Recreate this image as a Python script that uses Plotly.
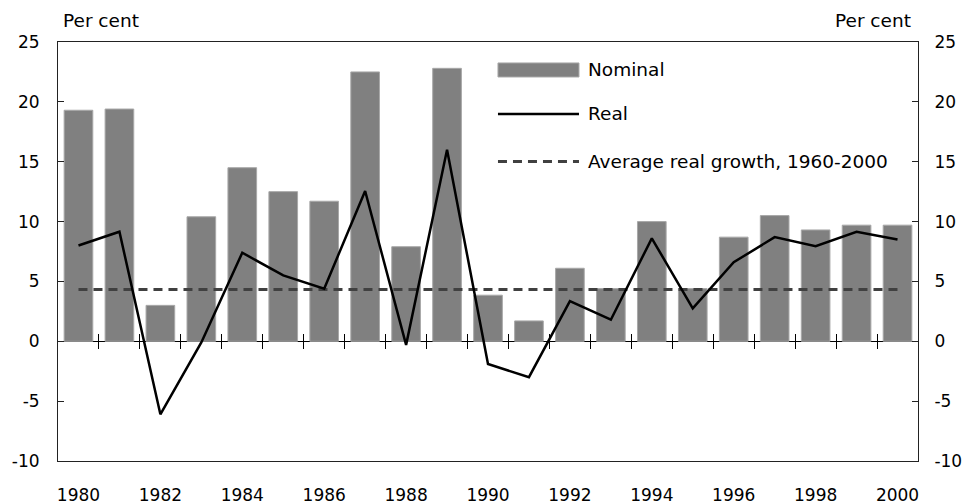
import plotly.graph_objects as go

years = list(range(1980, 2001))
nominal = [19.3, 19.4, 3.0, 10.4, 14.5, 12.5, 11.7, 22.5, 7.9, 22.8, 3.85,
           1.7, 6.1, 4.4, 10.0, 4.4, 8.7, 10.5, 9.3, 9.7, 9.7]
real = [8.0, 9.15, -6.1, -0.1, 7.4, 5.5, 4.4, 12.55, -0.3, 16.0, -1.9,
        -3.0, 3.35, 1.8, 8.6, 2.75, 6.6, 8.7, 7.95, 9.15, 8.5]
avg_real = 4.33
x_tick_labels = [str(y) for y in years if y % 2 == 0]
y_ticks = [-10, -5, 0, 5, 10, 15, 20, 25]
y_tick_labels = [str(v) for v in y_ticks]

FONT = "DejaVu Sans"
FS = 17
FS_TXT = 18.5

fig = go.Figure()
fig.add_trace(go.Bar(x=years, y=nominal, name="Nominal", width=0.7,
                     marker=dict(color="#808080", line=dict(color="#a8a8a8", width=1)),
                     showlegend=False))
fig.add_trace(go.Scatter(x=[years[0], years[-1]], y=[avg_real, avg_real], mode="lines",
                         line=dict(color="#404040", width=3, dash="9px,6px"),
                         showlegend=False, hoverinfo="skip"))
fig.add_trace(go.Scatter(x=years, y=real, mode="lines", name="Real",
                         line=dict(color="black", width=2.5), showlegend=False))
# helper traces to activate secondary axes
fig.add_trace(go.Scatter(x=[None], y=[None], yaxis="y2", showlegend=False, hoverinfo="skip"))
fig.add_trace(go.Scatter(x=[None], y=[None], xaxis="x2", showlegend=False, hoverinfo="skip"))
fig.add_trace(go.Scatter(x=[None], y=[None], xaxis="x3", showlegend=False, hoverinfo="skip"))

zero_pos = (0 - y_ticks[0]) / (y_ticks[-1] - y_ticks[0])
half_ticks = [y + 0.5 for y in years[:-1]]

fig.update_layout(
    width=966, height=504,
    margin=dict(l=58, r=48, t=42, b=43, autoexpand=False),
    paper_bgcolor="white", plot_bgcolor="white",
    font=dict(family=FONT, size=FS, color="black"),
    showlegend=False,
    xaxis=dict(range=[1979.5, 2000.5], tickvals=[int(t) for t in x_tick_labels],
               ticktext=x_tick_labels, ticks="", showgrid=False, zeroline=False,
               showline=True, linecolor="#222", linewidth=1, mirror=True, automargin=False,
               ticklabelstandoff=19, tickfont=dict(family=FONT, size=FS)),
    xaxis2=dict(overlaying="x", anchor="free", position=zero_pos, side="bottom",
                range=[1979.5, 2000.5], automargin=False,
                tickvals=half_ticks, ticks="outside", ticklen=7, tickcolor="black",
                showticklabels=False, showgrid=False, zeroline=False, showline=False),
    xaxis3=dict(overlaying="x", anchor="free", position=zero_pos, side="top",
                range=[1979.5, 2000.5], automargin=False,
                tickvals=half_ticks, ticks="outside", ticklen=7, tickcolor="black",
                showticklabels=False, showgrid=False, zeroline=False, showline=False),
    yaxis=dict(range=[y_ticks[0], y_ticks[-1]], tickvals=y_ticks, ticktext=y_tick_labels,
               ticks="inside", ticklen=6, automargin=False,
               tickcolor="#222", showgrid=False, zeroline=True, zerolinecolor="black",
               zerolinewidth=1, showline=True, linecolor="#222", linewidth=1,
               ticklabelstandoff=14, tickfont=dict(family=FONT, size=FS)),
    yaxis2=dict(overlaying="y", side="right", range=[y_ticks[0], y_ticks[-1]], tickvals=y_ticks,
                ticktext=y_tick_labels, automargin=False,
                ticks="inside", ticklen=6, tickcolor="#222", showgrid=False, zeroline=False,
                showline=True, linecolor="#222", linewidth=1,
                ticklabelstandoff=12, tickfont=dict(family=FONT, size=FS)),
)

# Legend drawn inside plot area (paper coords)
lx0, lx1, ltx = 0.5116, 0.6058, 0.614
fig.add_shape(type="rect", xref="paper", yref="paper", x0=lx0, x1=lx1, y0=0.9165, y1=0.950,
              fillcolor="#808080", line=dict(color="#a8a8a8", width=1))
fig.add_shape(type="line", xref="paper", yref="paper", x0=lx0, x1=lx1, y0=0.8282, y1=0.8282,
              line=dict(color="black", width=2.5))
fig.add_shape(type="line", xref="paper", yref="paper", x0=lx0, x1=lx1, y0=0.7148, y1=0.7148,
              line=dict(color="#404040", width=3, dash="9px,6px"))
for txt, yy in [("Nominal", 0.9332), ("Real", 0.8282), ("Average real growth, 1960-2000", 0.7148)]:
    fig.add_annotation(text=txt, xref="paper", yref="paper", x=ltx, y=yy, xanchor="left",
                       yanchor="middle", showarrow=False, font=dict(family=FONT, size=FS_TXT))

fig.add_annotation(text="Per cent", xref="paper", yref="paper", x=0.0035, y=1.0525,
                   xanchor="left", yanchor="middle", showarrow=False, font=dict(family=FONT, size=FS_TXT))
fig.add_annotation(text="Per cent", xref="paper", yref="paper", x=0.9942, y=1.0525,
                   xanchor="right", yanchor="middle", showarrow=False, font=dict(family=FONT, size=FS_TXT))

fig.write_html("out.html", config={"displayModeBar": False},
               post_script="document.body.style.margin='0';document.body.style.overflow='hidden';")
